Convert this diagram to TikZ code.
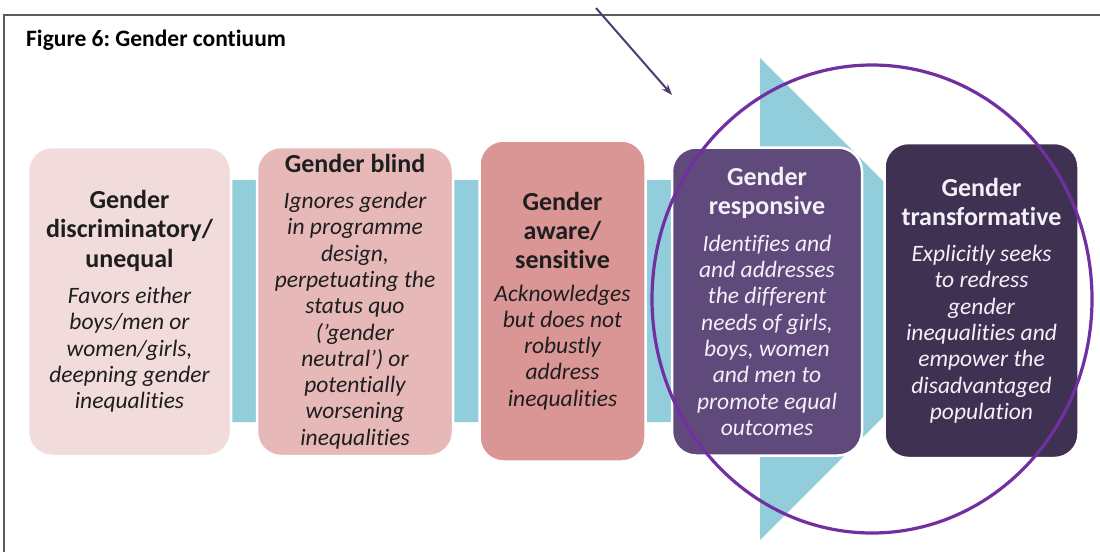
\documentclass[tikz,border=0pt]{standalone}
\usepackage{fontspec}
\setmainfont{Carlito}[Ligatures={TeX,NoCommon}]
\usetikzlibrary{arrows.meta}
\frenchspacing
\definecolor{arrowblue}{HTML}{92CDDC}
\definecolor{cA}{HTML}{F2DCDB}
\definecolor{cB}{HTML}{E6B9B8}
\definecolor{cC}{HTML}{D99694}
\definecolor{cD}{HTML}{604A7B}
\definecolor{cE}{HTML}{3F3151}
\definecolor{ringcol}{HTML}{7030A0}
\definecolor{pointcol}{HTML}{4E3D6E}
\definecolor{framecol}{HTML}{5A5A5A}
\definecolor{darktxt}{HTML}{1E1E1E}
\definecolor{lighttxt}{HTML}{F4F0F8}
\newcommand{\ttl}[1]{{\fontsize{26}{29}\selectfont\bfseries\upshape #1}}
\tikzset{
  box/.style={rectangle, rounded corners=24pt, draw=white, line width=2.5pt,
    inner sep=0pt, align=center, font=\fontsize{23.5}{26.3}\selectfont\itshape},
  darkbox/.style={box, text=darktxt},
  lightbox/.style={box, text=lighttxt},
  ring/.style={draw=ringcol, line width=3.2pt},
  pointer/.style={draw=pointcol, line width=2pt, -{Stealth[length=11pt,width=8pt]}},
  frameline/.style={draw=framecol, line width=1.6pt},
}
\begin{document}
\frenchspacing
\begin{tikzpicture}[x=1pt,y=-1pt]
\useasboundingbox (0,0) rectangle (1100,552);
\fill[white] (0,0) rectangle (1100,552);
% frame
\draw[frameline] (1100,15) -- (4,15) -- (4,552);
\node[anchor=base west, font=\fontsize{23.5}{26}\selectfont\bfseries, inner sep=0pt] (title) at (26,46) {Figure 6: Gender contiuum};
% blue arrow
\fill[arrowblue] (60,180) -- (760,180) -- (760,58) -- (1001,299) -- (760,540) -- (760,422) -- (60,422) -- cycle;
% boxes
\node[darkbox, fill=cA, minimum width=203pt, minimum height=309pt] (b1) at (129.5,301.5)
 {\ttl{Gender}\\[3pt]\ttl{discriminatory/}\\[3pt]\ttl{unequal}\\[10pt]
  Favors either\\ boys/men or\\ women/girls,\\ deepning gender\\ inequalities};
\node[darkbox, fill=cB, minimum width=196pt, minimum height=309pt] (b2) at (355,301.5)
 {\ttl{Gender blind}\\[10pt]
  Ignores gender\\ in programme\\ design,\\ perpetuating the\\ status quo\\ ('gender\\ neutral') or\\ potentially\\ worsening\\ inequalities};
\node[darkbox, fill=cC, minimum width=166pt, minimum height=321pt] (b3) at (562.5,301)
 {\ttl{Gender}\\[3pt]\ttl{aware/}\\[3pt]\ttl{sensitive}\\[6pt]
  Acknowledges\\ but does not\\ robustly\\ address\\ inequalities};
\node[lightbox, fill=cD, minimum width=190pt, minimum height=308pt] (b4) at (767,301.5)
 {\ttl{Gender}\\[3pt]\ttl{responsive}\\[10pt]
  Identifies and\\ and addresses\\ the different\\ needs of girls,\\ boys, women\\ and men to\\ promote equal\\ outcomes};
\node[lightbox, fill=cE, minimum width=194pt, minimum height=315pt] (b5) at (981.5,300.5)
 {\ttl{Gender}\\[3pt]\ttl{transformative}\\[10pt]
  Explicitly seeks\\ to redress\\ gender\\ inequalities and\\ empower the\\ disadvantaged\\ population};
% ring
\draw[ring] (872,299) ellipse [x radius=220pt, y radius=234pt];
% pointer
\coordinate (ps) at (596,8);
\coordinate (pe) at (672,95);
\draw[pointer] (ps) -- (pe);
\end{tikzpicture}
\end{document}
